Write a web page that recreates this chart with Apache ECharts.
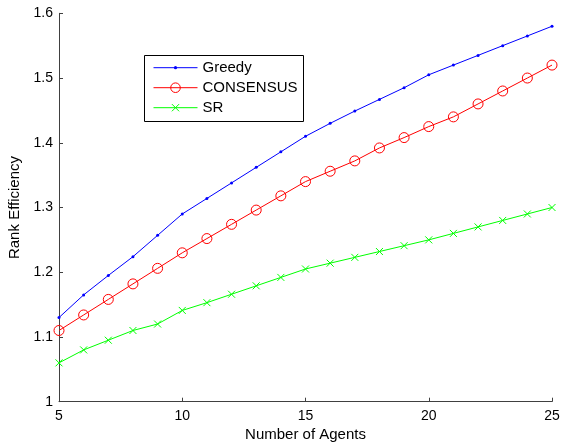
<!DOCTYPE html>
<html>
<head>
<meta charset="utf-8">
<script src="https://cdn.jsdelivr.net/npm/echarts@6/dist/echarts.min.js"></script>
<style>
html,body{margin:0;padding:0;background:#fff;}
#c{width:562px;height:443px;}
</style>
</head>
<body>
<div id="c"></div>
<script>
const agents = [5,6,7,8,9,10,11,12,13,14,15,16,17,18,19,20,21,22,23,24,25];
const greedy = [1.130,1.165,1.195,1.224,1.257,1.290,1.314,1.338,1.362,1.386,1.410,1.430,1.449,1.467,1.485,1.505,1.520,1.535,1.550,1.565,1.580];
const consensus = [1.110,1.134,1.158,1.182,1.206,1.230,1.252,1.274,1.296,1.318,1.340,1.356,1.372,1.392,1.408,1.425,1.440,1.460,1.480,1.500,1.520];
const sr = [1.060,1.080,1.095,1.110,1.120,1.141,1.153,1.166,1.179,1.192,1.205,1.214,1.223,1.232,1.241,1.250,1.260,1.270,1.280,1.290,1.300];
const seriesNames = ['Greedy','CONSENSUS','SR'];

const pair = (ys) => agents.map((x,i)=>[x, ys[i]]);
const font = 'Liberation Sans, Arial, Helvetica, sans-serif';
const axisCol = '#404040';

function legendFor(name, rowCenter, iconH) {
  return {
    orient:'horizontal', left:153, top:rowCenter - 9,
    data:[name], padding:0,
    itemWidth:44, itemHeight:iconH, itemTextGap:6,
    lineStyle:{width:1},
    itemStyle:{borderWidth:1},
    textStyle:{fontFamily:font, fontSize:15, color:'#000', lineHeight:18, height:18, verticalAlign:'middle'}
  };
}

const chart = echarts.init(document.getElementById('c'), null, {renderer:'canvas'});
chart.setOption({
  animation:false,
  backgroundColor:'#fff',
  grid:{left:59, right:10, top:13.3, bottom:41.3, containLabel:false, outerBoundsMode:'none'},
  graphic:[{type:'rect', left:144, top:55, shape:{width:159, height:66},
    style:{fill:'#fff', stroke:'#000', lineWidth:1}, z:3}],
  legend:[
    legendFor(seriesNames[0], 67.7, 4),
    legendFor(seriesNames[1], 87.7, 12),
    legendFor(seriesNames[2], 107.7, 9)
  ],
  xAxis:{
    type:'value', min:5, max:25, interval:5,
    name:'Number of Agents', nameLocation:'middle', nameGap:23,
    nameTextStyle:{fontFamily:font, fontSize:15, color:'#000'},
    axisLine:{show:true, lineStyle:{color:axisCol, width:1}},
    axisTick:{show:true, inside:true, length:4, lineStyle:{color:axisCol}},
    axisLabel:{fontFamily:font, fontSize:14, color:'#000', margin:7},
    splitLine:{show:false}
  },
  yAxis:{
    type:'value', min:1, max:1.6, interval:0.1,
    name:'Rank Efficiency', nameLocation:'middle', nameGap:30,
    nameTextStyle:{fontFamily:font, fontSize:15, color:'#000'},
    axisLine:{show:true, lineStyle:{color:axisCol, width:1}},
    axisTick:{show:true, inside:true, length:4, lineStyle:{color:axisCol}},
    axisLabel:{fontFamily:font, fontSize:14, color:'#000', margin:6,
      formatter:(v)=>String(+v.toFixed(1))},
    splitLine:{show:false}
  },
  series:[
    {name:seriesNames[0], type:'line', data:pair(greedy), symbol:'circle', symbolSize:3,
     lineStyle:{color:'#0000ff', width:1}, itemStyle:{color:'#0000ff'}},
    {name:seriesNames[1], type:'line', data:pair(consensus), symbol:'circle', symbolSize:10,
     lineStyle:{color:'#ff0000', width:1}, itemStyle:{color:'none', borderColor:'#ff0000', borderWidth:1}},
    {name:seriesNames[2], type:'line', data:pair(sr), symbol:'path://M0,0L10,10M10,0L0,10', symbolSize:7,
     lineStyle:{color:'#00ff00', width:1}, itemStyle:{color:'none', borderColor:'#00ff00', borderWidth:1}}
  ]
});
</script>
</body>
</html>
